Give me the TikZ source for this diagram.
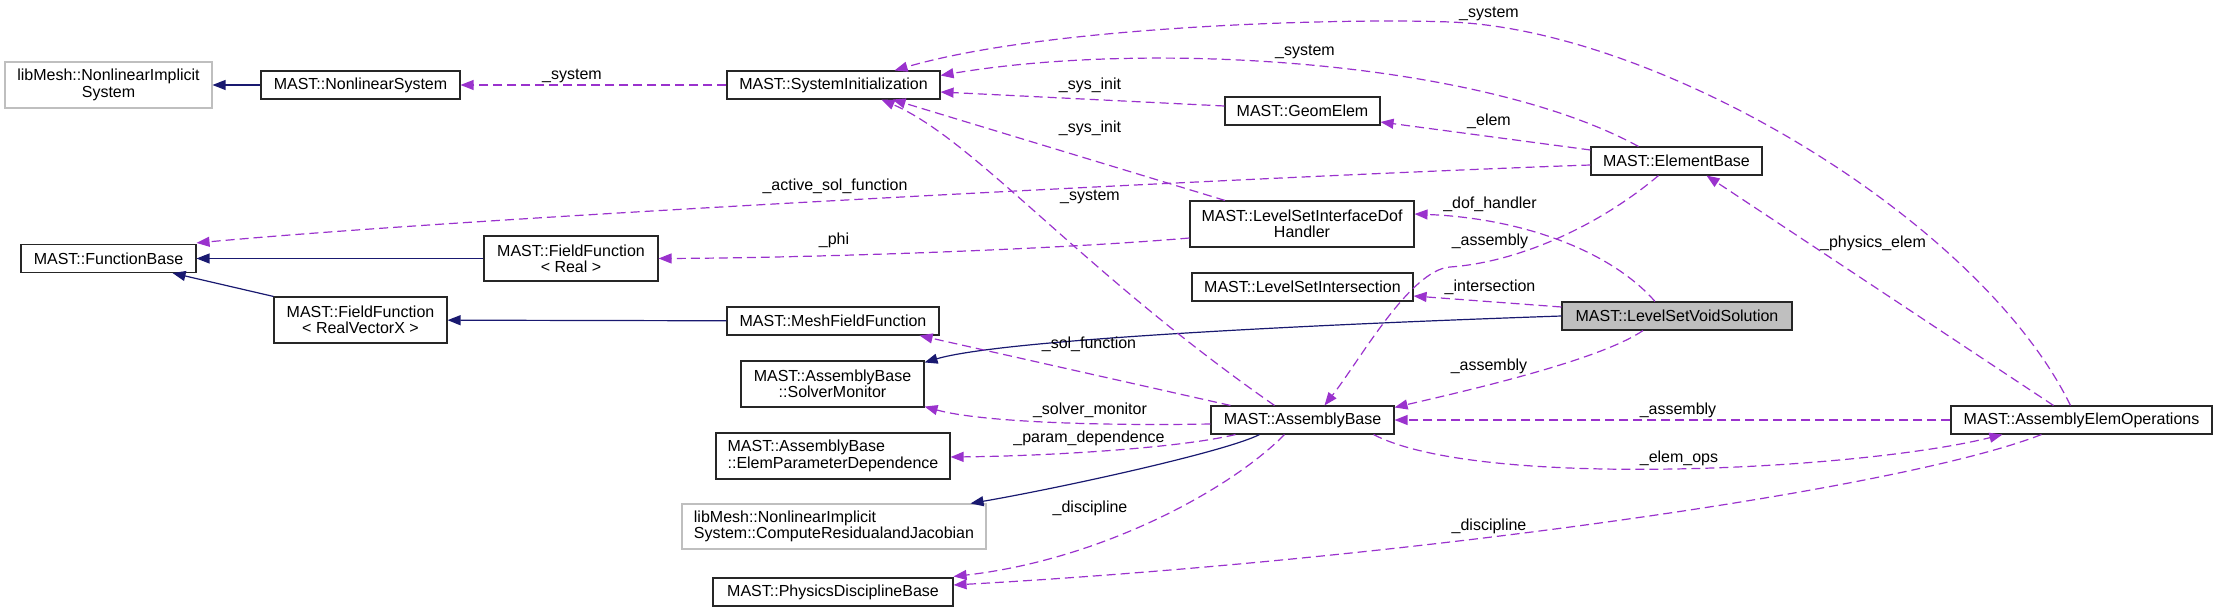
\documentclass[tikz,border=0pt]{standalone}
\usepackage{fontspec}
\setmainfont{Liberation Sans}
\usetikzlibrary{arrows.meta,calc}
\definecolor{inhblue}{RGB}{25,25,112}
\definecolor{usepurple}{RGB}{154,50,205}
\definecolor{extgray}{RGB}{191,191,191}
\tikzset{cls/.style={draw=black!85,line width=1.1pt,fill=white,minimum height=28pt,inner sep=2pt,font=\fontsize{16}{16.3}\selectfont}}
\tikzset{ext/.style={cls,draw=extgray}}
\tikzset{cur/.style={cls,fill=extgray}}
\tikzset{lbl/.style={inner sep=0pt,font=\fontsize{16}{16.3}\selectfont}}
\tikzset{inherit/.style={draw=inhblue,line width=1.2pt,-{Triangle[length=13pt,width=10pt]}}}
\tikzset{uses/.style={draw=usepurple,line width=1.2pt,dash pattern=on 9pt off 5pt,-{Triangle[length=13pt,width=10pt]}}}

\begin{document}
\begin{tikzpicture}[x=1pt,y=-1pt]
    \useasboundingbox (0,0) rectangle (2217,612);
    \node [ext,minimum width=207pt,minimum height=46pt,align=center] (nlis) at (108.5,85) {libMesh::NonlinearImplicit\\System};
    \node [cls,minimum width=199pt] (nlsys) at (360.5,85) {MAST::NonlinearSystem};
    \node [cls,minimum width=213pt] (sysinit) at (833.5,85) {MAST::SystemInitialization};
    \node [cls,minimum width=155pt] (geom) at (1302.5,111) {MAST::GeomElem};
    \node [cls,minimum width=171pt] (elembase) at (1676.5,161) {MAST::ElementBase};
    \node [cls,minimum width=175pt] (funcbase) at (108.5,258.5) {MAST::FunctionBase};
    \node [cls,minimum width=174pt,minimum height=45pt,align=center] (ffreal) at (571,258.5) {MAST::FieldFunction\\< Real >};
    \node [cls,minimum width=224pt,minimum height=46pt,align=center] (lsidh) at (1302,224) {MAST::LevelSetInterfaceDof\\Handler};
    \node [cls,minimum width=221pt] (lsinter) at (1302.5,287) {MAST::LevelSetIntersection};
    \node [cls,minimum width=173pt,minimum height=46pt,align=center] (ffvec) at (360.5,320) {MAST::FieldFunction\\< RealVectorX >};
    \node [cls,minimum width=212pt] (meshff) at (833,321) {MAST::MeshFieldFunction};
    \node [cur,minimum width=230pt] (lsvoid) at (1677,316) {MAST::LevelSetVoidSolution};
    \node [cls,minimum width=183pt,minimum height=46pt,align=center] (solvmon) at (832.5,384) {MAST::AssemblyBase\\::SolverMonitor};
    \node [cls,minimum width=183pt] (asmbase) at (1302.5,420) {MAST::AssemblyBase};
    \node [cls,minimum width=261pt] (asmops) at (2081.5,420) {MAST::AssemblyElemOperations};
    \node [cls,minimum width=234pt,minimum height=46pt,align=left] (epd) at (833,456) {MAST::AssemblyBase\\::ElemParameterDependence};
    \node [ext,minimum width=304pt,minimum height=45pt,align=left] (crj) at (834,526.5) {libMesh::NonlinearImplicit\\System::ComputeResidualandJacobian};
    \node [cls,minimum width=240pt] (physdisc) at (833,592) {MAST::PhysicsDisciplineBase};

    \draw [inherit] (nlsys) -- (nlis);
    \draw [inherit] (ffreal) -- (funcbase);
    \draw [inherit] (ffvec.north west) -- ($(funcbase.south east)+(-24,0)$);
    \draw [inherit] (meshff) -- (ffvec);
    \draw [inherit] (lsvoid.west) .. controls (1300,325) and (1000,340) .. ($(solvmon.north east)+(0,2)$);
    \draw [inherit] ($(asmbase.south)+(-43,0)$) .. controls (1225,452) and (1060,488) .. ($(crj.north east)+(-16,0)$);

    \draw [uses] (sysinit) -- (nlsys);
    \draw [uses] ($(elembase.north)+(-38,0)$) .. controls (1480,60) and (1150,40) .. ($(sysinit.north east)+(0,5)$);
    \draw [uses] ($(asmops.north west)+(120,0)$) .. controls (1980,220) and (1660,30) .. (1450,22) .. controls (1350,18) and (1050,25) .. ($(sysinit.north east)+(-46,0)$);
    \draw [uses] ($(geom.west)+(0,-5)$) -- ($(sysinit.east)+(0,7)$);
    \draw [uses] ($(lsidh.north)+(-77,0)$) -- ($(sysinit.south)+(59,0)$);
    \draw [uses] ($(asmbase.north)+(-28,0)$) .. controls (1080,270) and (975,140) .. ($(sysinit.south)+(48,0)$);
    \draw [uses] ($(elembase.west)+(0,-11)$) -- ($(geom.east)+(0,11)$);
    \draw [uses] ($(elembase.west)+(0,4)$) .. controls (1300,175) and (500,215) .. ($(funcbase.north east)+(0,-1)$);
    \draw [uses] ($(lsidh.west)+(0,14)$) .. controls (1050,250) and (800,258) .. (ffreal.east);
    \draw [uses] ($(lsvoid.north)+(-22,0)$) .. controls (1610,250) and (1520,218) .. ($(lsidh.east)+(0,-10)$);
    \draw [uses] ($(elembase.south)+(-18,0)$) .. controls (1600,225) and (1520,262) .. (1450,267) .. controls (1410,270) and (1360,360) .. ($(asmbase.north)+(22,0)$);
    \draw [uses] ($(lsvoid.west)+(0,-9)$) -- ($(lsinter.east)+(0,9)$);
    \draw [uses] ($(lsvoid.south)+(-34,0)$) .. controls (1600,360) and (1470,390) .. ($(asmbase.north east)+(0,2)$);
    \draw [uses] (asmops) -- (asmbase);
    \draw [uses] ($(asmbase.south east)+(-21,0)$) .. controls (1480,490) and (1860,470) .. ($(asmops.south west)+(52,0)$);
    \draw [uses] ($(asmops.north west)+(103,0)$) -- ($(elembase.south)+(30,0)$);
    \draw [uses] ($(asmbase.north west)+(20,0)$) -- ($(meshff.south east)+(-20,0)$);
    \draw [uses] ($(asmbase.west)+(0,4)$) .. controls (1100,426) and (980,422) .. ($(solvmon.south east)+(0,-1)$);
    \draw [uses] ($(asmbase.south west)+(25,0)$) .. controls (1180,448) and (1050,456) .. ($(epd.east)+(0,1)$);
    \draw [uses] ($(asmbase.south)+(-18,0)$) .. controls (1230,490) and (1100,560) .. ($(physdisc.north east)+(0,-1)$);
    \draw [uses] ($(asmops.south west)+(91,0)$) .. controls (1900,490) and (1400,560) .. ($(physdisc.east)+(0,-7)$);

    \node [lbl] (lnlsys) at (572,76) {\_system};
    \node [lbl] (lsysa) at (1305,52) {\_system};
    \node [lbl] (lsysb) at (1489,14) {\_system};
    \node [lbl] (lgeom) at (1090,85) {\_sys\_init};
    \node [lbl] (llsidh) at (1090,128) {\_sys\_init};
    \node [lbl] (lsysc) at (1090,197) {\_system};
    \node [lbl] (lelem) at (1489,121) {\_elem};
    \node [lbl] (lactive) at (835,186) {\_active\_sol\_function};
    \node [lbl] (lphi) at (834,240) {\_phi};
    \node [lbl] (ldof) at (1490,204) {\_dof\_handler};
    \node [lbl] (lasma) at (1490,241) {\_assembly};
    \node [lbl] (linter) at (1490,287) {\_intersection};
    \node [lbl] (lphys) at (1873,243) {\_physics\_elem};
    \node [lbl] (lsol) at (1089,344) {\_sol\_function};
    \node [lbl] (lasmb) at (1489,366) {\_assembly};
    \node [lbl] (lasmc) at (1678,410) {\_assembly};
    \node [lbl] (lsolv) at (1090,410) {\_solver\_monitor};
    \node [lbl] (lparam) at (1089,438) {\_param\_dependence};
    \node [lbl] (lops) at (1679,458) {\_elem\_ops};
    \node [lbl] (ldisca) at (1090,508) {\_discipline};
    \node [lbl] (ldiscb) at (1489,526) {\_discipline};
\end{tikzpicture}
\end{document}
